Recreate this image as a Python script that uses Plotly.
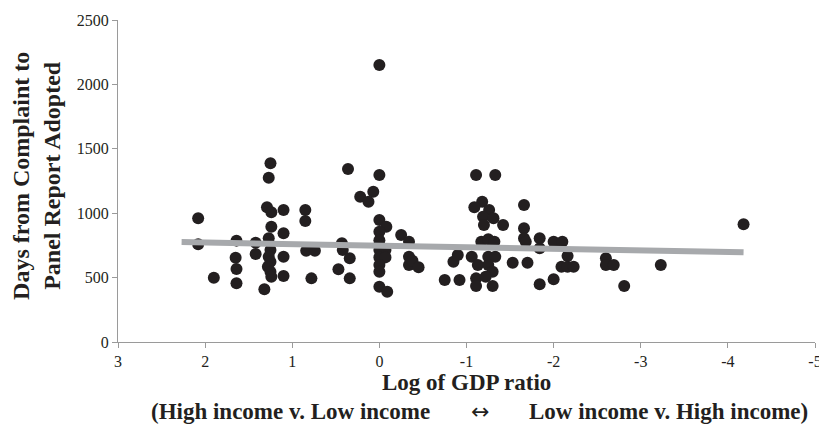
import plotly.graph_objects as go

# Scatter data: log of GDP ratio vs days from complaint to panel report adopted
gdp_log = [2.08, 2.08, 1.90, 1.64, 1.65, 1.64, 1.64, 1.42, 1.42,
           1.25, 1.27, 1.29, 1.24, 1.24, 1.27, 1.25, 1.27, 1.25, 1.28, 1.25, 1.24, 1.32,
           1.10, 1.10, 1.10, 1.10, 0.85, 0.85, 0.84, 0.74, 0.78,
           0.36, 0.0, 0.22, 0.07, 0.125, 0.43, 0.42, 0.34, 0.47, 0.34,
           0.0, 0.0, -0.08, 0.0, 0.0, 0.0, -0.07, 0.0, -0.07, 0.0, 0.0, 0.0, -0.09,
           -0.25, -0.34, -0.34, -0.34, -0.38, -0.45,
           -0.75, -0.92, -0.85, -0.90,
           -1.11, -1.33, -1.18, -1.09, -1.26, -1.19, -1.31, -1.20, -1.42,
           -1.17, -1.25, -1.32, -1.06, -1.25, -1.33, -1.13, -1.25, -1.30,
           -1.11, -1.22, -1.11, -1.30, -1.53, -1.70,
           -1.66, -1.66, -1.66, -1.68, -1.84, -1.84, -2.00, -2.10, -2.16,
           -2.09, -2.16, -2.23, -1.84, -2.00,
           -2.60, -2.60, -2.69, -2.81, -3.23, -4.18]
days = [960, 759, 499, 787, 655, 567, 456, 771, 683,
        1387, 1276, 1046, 1007, 895, 805, 714, 662, 623, 585, 546, 507, 409,
        1025, 844, 662, 512, 1025, 940, 709, 709, 494,
        1343, 1297, 1128, 1167, 1089, 766, 714, 650, 564, 494,
        2150, 947, 895, 856, 790, 714, 714, 657, 657, 598, 546, 429, 390,
        831, 779, 662, 598, 630, 580,
        481, 481, 623, 675,
        1297, 1297, 1089, 1046, 1025, 973, 960, 908, 908,
        779, 797, 779, 662, 662, 662, 598, 598, 546,
        494, 507, 435, 435, 616, 616,
        1064, 883, 805, 779, 805, 727, 779, 779, 668,
        585, 585, 585, 448, 487,
        650, 598, 598, 435, 598, 914]

# Linear trend line end points
trend_x = [2.27, -4.18]
trend_y = [776, 696]

x_tickvals = [3, 2, 1, 0, -1, -2, -3, -4, -5]
x_ticktext = ["3", "2", "1", "0", "-1", "-2", "-3", "-4", "-5"]
y_tickvals = [0, 500, 1000, 1500, 2000, 2500]

FONT = "Liberation Serif"
DARK = "#231f20"
AXIS = "#9a9a9a"

fig = go.Figure()
fig.add_trace(go.Scatter(
    x=gdp_log, y=days, mode="markers",
    marker=dict(size=12, color=DARK, line=dict(width=0)),
    showlegend=False, hoverinfo="x+y", cliponaxis=False))
fig.add_trace(go.Scatter(
    x=trend_x, y=trend_y, mode="lines",
    line=dict(color="#a7a9ac", width=6),
    showlegend=False, hoverinfo="skip"))

# page body adds an 8px offset, so the figure is 8px smaller and margins shifted
fig.update_layout(
    width=819, height=417,
    margin=dict(l=110, r=12, t=12, b=83),
    paper_bgcolor="white", plot_bgcolor="white",
    font=dict(family=FONT, color=DARK, size=16),
    xaxis=dict(range=[3, -5], tickvals=x_tickvals, ticktext=x_ticktext,
               showgrid=False, zeroline=False, showline=True, linecolor=AXIS,
               linewidth=1, ticks="outside", ticklen=5, tickcolor=AXIS,
               ticklabeloverflow="allow", automargin=False,
               tickfont=dict(family=FONT, size=16, color=DARK)),
    yaxis=dict(range=[0, 2500], tickvals=y_tickvals, automargin=False,
               showgrid=False, zeroline=False, showline=True, linecolor=AXIS,
               linewidth=1, ticks="outside", ticklen=5, tickcolor=AXIS,
               tickfont=dict(family=FONT, size=16, color=DARK)),
)

bold = dict(family=FONT, size=23, color=DARK)
fig.add_annotation(text="<b>Days from Complaint to<br>Panel Report Adopted</b>",
                   xref="paper", yref="paper", x=-0.118, y=0.515,
                   xanchor="center", yanchor="middle", textangle=-90,
                   showarrow=False, font=dict(family=FONT, size=24, color=DARK))
fig.add_annotation(text="<b>Log of GDP ratio</b>", xref="paper", yref="paper",
                   x=0.5, y=-0.127, xanchor="center", yanchor="middle",
                   showarrow=False, font=bold)
fig.add_annotation(text="<b>(High income v. Low income</b>", xref="paper", yref="paper",
                   x=0.451, y=-0.215, xanchor="right", yanchor="middle",
                   showarrow=False, font=bold)
fig.add_annotation(text="\u2194", xref="paper", yref="paper",
                   x=0.52, y=-0.215, xanchor="center", yanchor="middle",
                   showarrow=False, font=dict(family="DejaVu Sans", size=22, color=DARK))
fig.add_annotation(text="<b>Low income v. High income)</b>", xref="paper", yref="paper",
                   x=0.587, y=-0.215, xanchor="left", yanchor="middle",
                   showarrow=False, font=bold)

fig.write_html("out.html")
